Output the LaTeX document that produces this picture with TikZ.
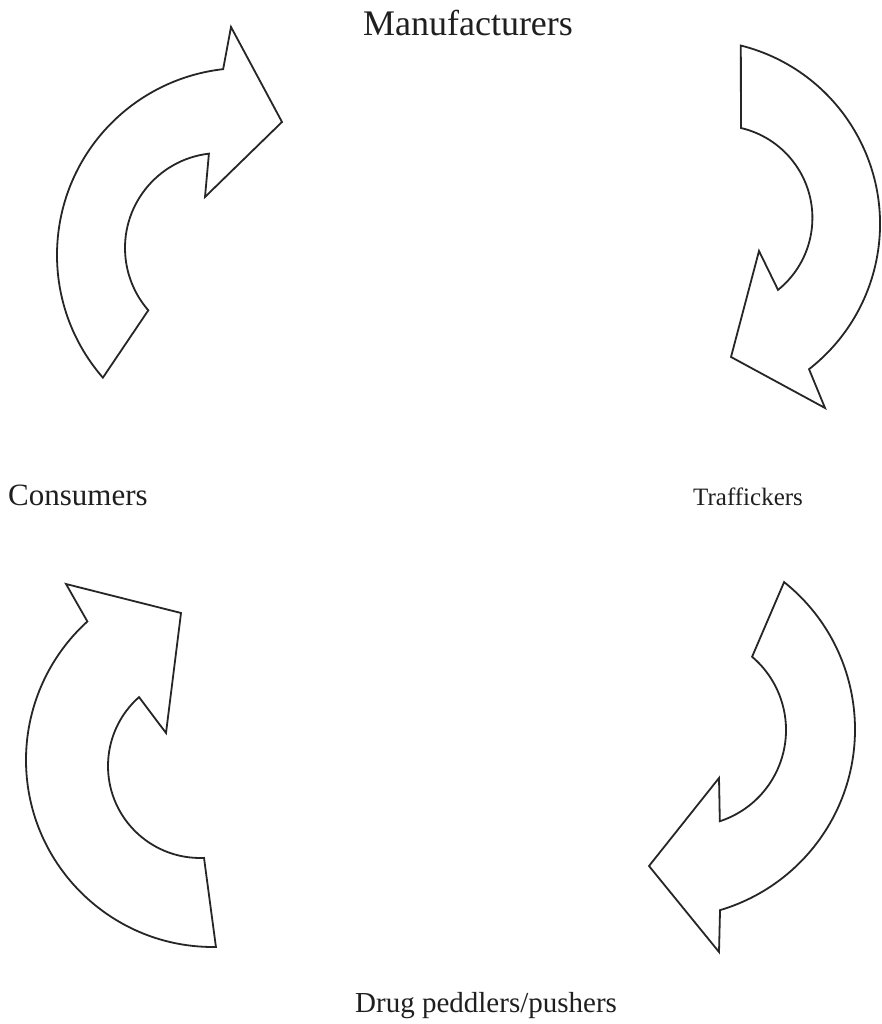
\documentclass[tikz,border=0pt]{standalone}
\usepackage{fontspec}
\setmainfont{Liberation Serif}
\usetikzlibrary{calc}
\tikzset{
  cyclearrow/.style={draw=black!85, line width=1.8pt, line join=miter, fill=none},
  lbl/.style={inner sep=0pt, text=black!88}
}
\begin{document}
\begin{tikzpicture}[x=1pt,y=1pt]
\fill[white] (0,0) rectangle (882,1024);
\useasboundingbox (0,0) rectangle (882,1024);
% centres of the arcs
\coordinate (c1o) at (244,769);   \coordinate (c1i) at (220,776);
\coordinate (c2o) at (696,800);   \coordinate (c2i) at (720,806);
\coordinate (c3o) at (213,264);   \coordinate (c3i) at (200,258);
\coordinate (c4o) at (666.5,294.6); \coordinate (c4i) at (690,294);
% top-left arrow
\draw[cyclearrow] ($(c1o)+(221:187pt)$) arc[start angle=221,end angle=96.4,radius=187pt]
  -- (231,997) -- (282,902) -- (205,827)
  -- ($(c1i)+(96.7:95pt)$) arc[start angle=96.7,end angle=221,radius=95pt] -- cycle;
% top-right arrow
\draw[cyclearrow] ($(c2o)+(75.9:184pt)$) arc[start angle=75.9,end angle=-52.1,radius=184pt]
  -- (825,616) -- (731,667) -- (759,773)
  -- ($(c2i)+(-51.1:92.4pt)$) arc[start angle=-51.1,end angle=76.9,radius=92.4pt] -- cycle;
% bottom-left arrow
\draw[cyclearrow] ($(c3o)+(270.9:187pt)$) arc[start angle=270.9,end angle=132.2,radius=187pt]
  -- (66,440) -- (181,411) -- (166,291)
  -- ($(c3i)+(131.5:92pt)$) arc[start angle=131.5,end angle=272.5,radius=92pt] -- cycle;
% bottom-right arrow
\draw[cyclearrow] ($(c4o)+(51.4:188.5pt)$) arc[start angle=51.4,end angle=-73.5,radius=188.5pt]
  -- (719,72) -- (649,158) -- (719,246)
  -- ($(c4i)+(-71.9:96pt)$) arc[start angle=-71.9,end angle=49.7,radius=96pt] -- cycle;
% labels
\node[lbl, anchor=base] (manu) at (468,988) {\fontsize{36}{40}\selectfont Manufacturers};
\node[lbl, anchor=base west] (cons) at (8,518) {\fontsize{31}{36}\selectfont Consumers};
\node[lbl, anchor=base west] (traf) at (693,518) {\fontsize{25}{30}\selectfont Traffickers};
\node[lbl, anchor=base west] (drug) at (355,11) {\fontsize{29}{34}\selectfont Drug peddlers/pushers};
\end{tikzpicture}
\end{document}
